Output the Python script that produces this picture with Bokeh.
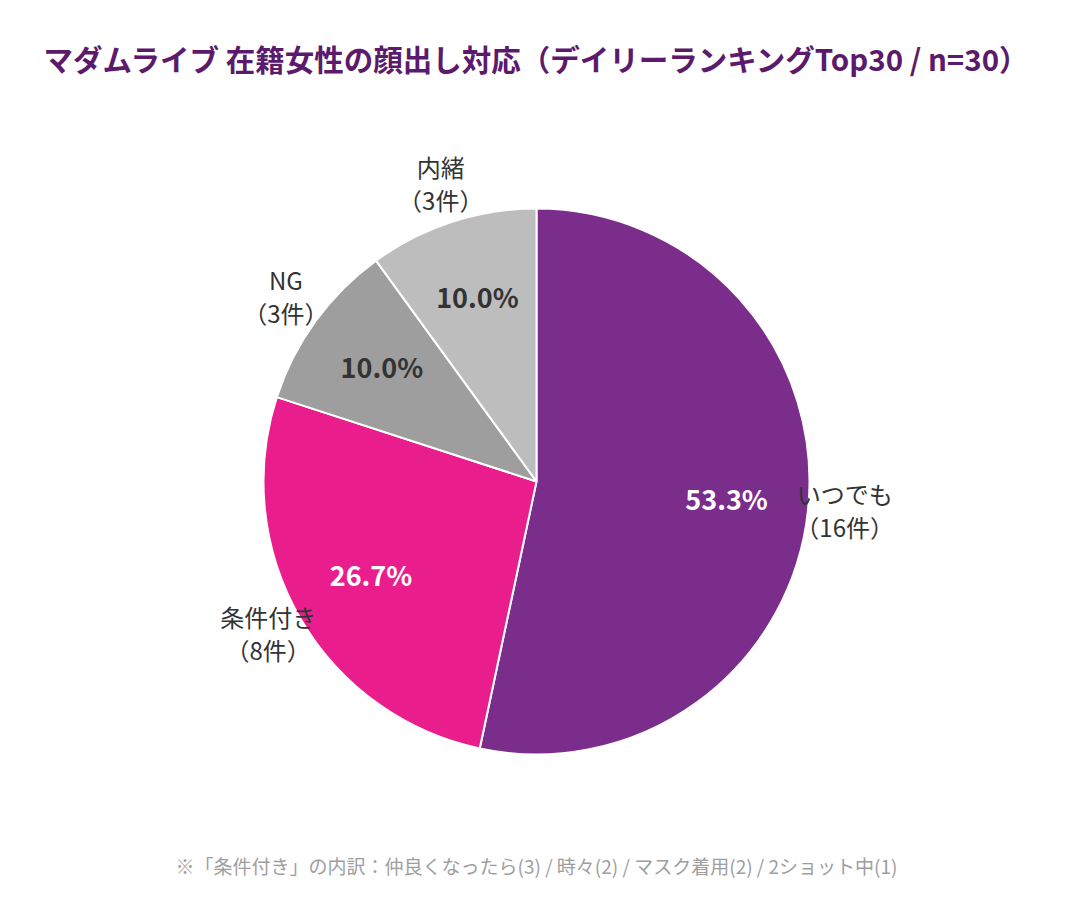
import math
from bokeh.plotting import figure
from bokeh.models import Range1d, ColumnDataSource
from bokeh.core.properties import value
from bokeh.embed import file_html
from bokeh.resources import INLINE

title_text = "マダムライブ 在籍女性の顔出し対応（デイリーランキングTop30 / n=30）"
footnote = "※「条件付き」の内訳：仲良くなったら(3) / 時々(2) / マスク着用(2) / 2ショット中(1)"
categories = ["いつでも", "条件付き", "NG", "内緒"]
counts = [16, 8, 3, 3]
colors = ["#7B2D8B", "#E91E8C", "#9E9E9E", "#BDBDBD"]
pct_colors = ["#FFFFFF", "#FFFFFF", "#333333", "#333333"]

FONT = value("Noto Sans CJK JP")
W, H = 1056, 907
cx, cy = 536, 481  # page pixel position of pie center
R = 273
DY = 3  # vertical correction for CJK font middle baseline

p = figure(width=W, height=H, output_backend="svg", toolbar_location=None,
           x_range=Range1d(-cx, W - cx), y_range=Range1d(cy - H, cy),
           min_border=0, outline_line_color=None)
p.axis.visible = False
p.grid.visible = False
p.background_fill_color = "white"
p.border_fill_color = "white"

total = sum(counts)
starts, ends, mids = [], [], []
acc = 0.0
for c in counts:
    a0 = acc / total * 2 * math.pi
    acc += c
    a1 = acc / total * 2 * math.pi
    starts.append(math.pi / 2 - a0)
    ends.append(math.pi / 2 - a1)
    mids.append(math.pi / 2 - (a0 + a1) / 2)

src = ColumnDataSource(dict(start=starts, end=ends, color=colors))
p.wedge(x=0, y=0, radius=R, start_angle="start", end_angle="end", direction="clock",
        fill_color="color", line_color="white", line_width=2, source=src)

# percentage labels
pct = ["%.1f%%" % (c / total * 100) for c in counts]
p.text(x=[0.7 * R * math.cos(m) for m in mids], y=[0.7 * R * math.sin(m) + DY for m in mids],
       text=pct, text_color=pct_colors, text_font=FONT, text_font_style="bold",
       text_font_size="27px", text_align="center", text_baseline="middle")

# outer labels
LR = 1.135 * R
lx = [LR * math.cos(m) for m in mids]
ly = [LR * math.sin(m) + DY for m in mids]
p.text(x=lx, y=[v + 17 for v in ly], text=categories, text_color="#333333", text_font=FONT,
       text_font_size="24px", text_align="center", text_baseline="middle")
p.text(x=lx, y=[v - 16 for v in ly], text=["（%d件）" % c for c in counts], text_color="#333333",
       text_font=FONT, text_font_size="24px", text_align="center", text_baseline="middle")

# title
p.text(x=[43 - cx], y=[cy - 60 + DY], text=[title_text], text_color="#5B1A6B", text_font=FONT,
       text_font_style="bold", text_font_size="29.5px", text_align="left", text_baseline="middle")
# footnote
p.text(x=[536 - cx], y=[cy - 866 + 1], text=[footnote], text_color="#9E9E9E", text_font=FONT,
       text_font_size="19px", text_align="center", text_baseline="middle")

open("out.html", "w").write(file_html(p, INLINE))
